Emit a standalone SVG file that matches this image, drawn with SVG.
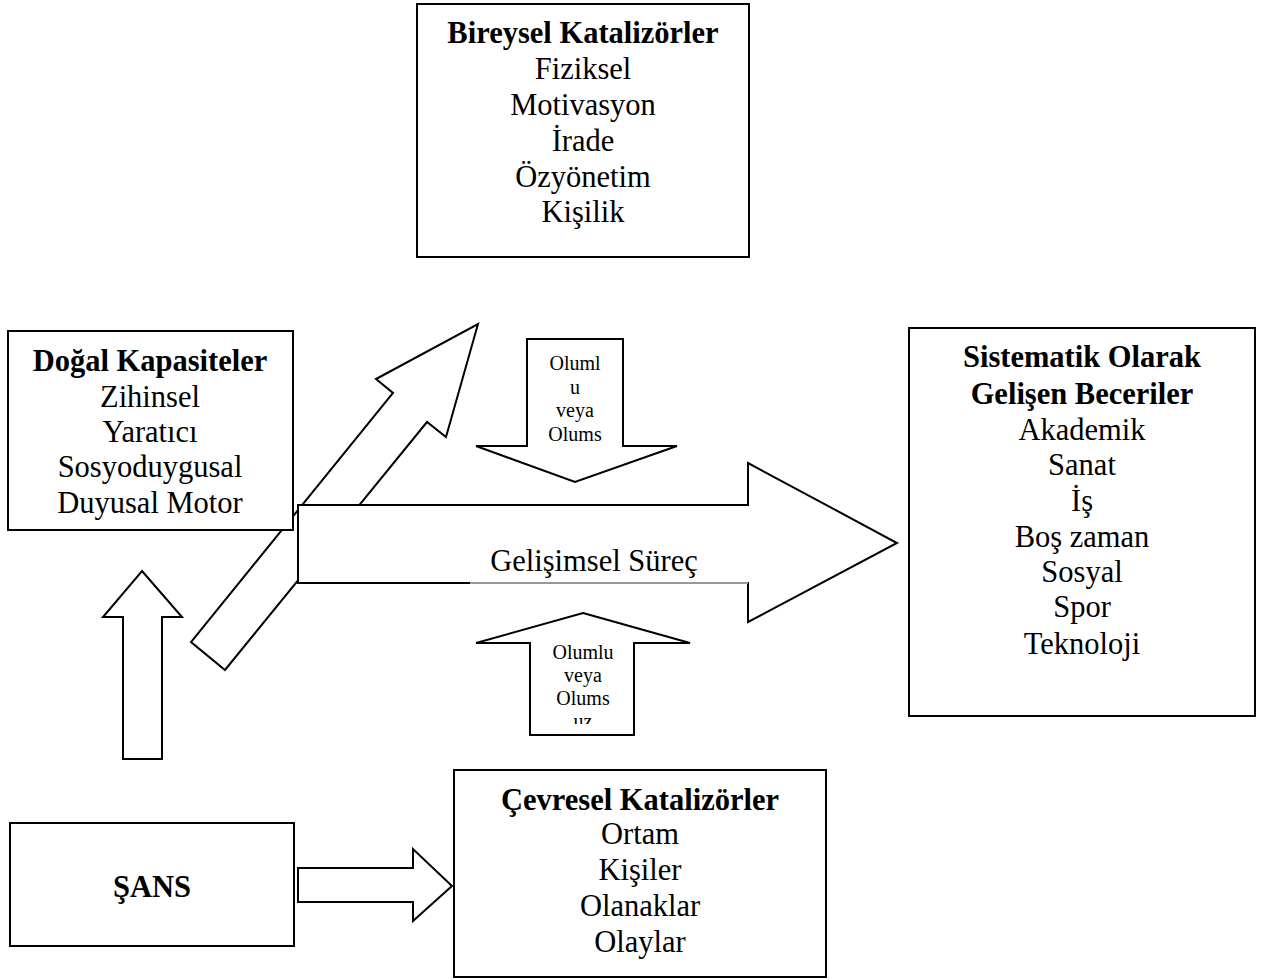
<svg xmlns="http://www.w3.org/2000/svg" width="1266" height="980" viewBox="0 0 1266 980">
<style>
.box{fill:#fff;stroke:#000;stroke-width:2}
.arr{fill:#fff;stroke:#000;stroke-width:2;stroke-linejoin:miter}
text{font-family:"Liberation Serif","Times New Roman",serif;fill:#000;text-anchor:middle}
.t{font-size:30.5px}
.b{font-size:30.5px;font-weight:bold}
.s{font-size:20px}
</style>
<defs>
<clipPath id="clipUp"><rect x="530" y="640" width="104" height="84"/></clipPath>
</defs>
<rect width="1266" height="980" fill="#fff"/>
<g id="connectors">
<polygon id="diag-arrow" class="arr" points="478,324 446,437 427,422 225,670 191,642 393,393 376,379"/>
<polygon id="up-arrow" class="arr" points="142,571 182,617 162,617 162,759 123,759 123,617 103,617"/>
<polygon id="chance-arrow" class="arr" points="298,868 413,868 413,849 452,886 413,921 413,902 298,902"/>
</g>
<g id="dogal">
<rect class="box" x="8" y="331" width="285" height="199"/>
<text class="b" x="150" y="371">Doğal Kapasiteler</text>
<text class="t" x="150" y="407">Zihinsel</text>
<text class="t" x="150" y="442">Yaratıcı</text>
<text class="t" x="150" y="477">Sosyoduygusal</text>
<text class="t" x="150" y="513">Duyusal Motor</text>
</g>
<g id="main-arrow">
<polygon class="arr" points="298,505 748,505 748,463 897,543 748,622 748,583 298,583"/>
<line x1="470" y1="583" x2="748" y2="583" stroke="#999" stroke-width="2"/>
<text class="t" x="594" y="571">Gelişimsel Süreç</text>
</g>
<g id="olumlu-down">
<polygon class="arr" points="527,339 623,339 623,446 677,446 575,482 476,446 527,446"/>
<text class="s" x="575" y="370">Oluml</text>
<text class="s" x="575" y="394">u</text>
<text class="s" x="575" y="417">veya</text>
<text class="s" x="575" y="441">Olums</text>
</g>
<g id="olumlu-up">
<polygon class="arr" points="583,613 690,643 634,643 634,735 530,735 530,643 476,643"/>
<g clip-path="url(#clipUp)">
<text class="s" x="583" y="659">Olumlu</text>
<text class="s" x="583" y="682">veya</text>
<text class="s" x="583" y="705">Olums</text>
<text class="s" x="583" y="728">uz</text>
</g>
</g>
<g id="bireysel">
<rect class="box" x="417" y="4" width="332" height="253"/>
<text class="b" x="583" y="43">Bireysel Katalizörler</text>
<text class="t" x="583" y="79">Fiziksel</text>
<text class="t" x="583" y="115">Motivasyon</text>
<text class="t" x="583" y="151">İrade</text>
<text class="t" x="583" y="187">Özyönetim</text>
<text class="t" x="583" y="222">Kişilik</text>
</g>
<g id="sistematik">
<rect class="box" x="909" y="328" width="346" height="388"/>
<text class="b" x="1082" y="367">Sistematik Olarak</text>
<text class="b" x="1082" y="404">Gelişen Beceriler</text>
<text class="t" x="1082" y="440">Akademik</text>
<text class="t" x="1082" y="475">Sanat</text>
<text class="t" x="1082" y="511">İş</text>
<text class="t" x="1082" y="547">Boş zaman</text>
<text class="t" x="1082" y="582">Sosyal</text>
<text class="t" x="1082" y="617">Spor</text>
<text class="t" x="1082" y="654">Teknoloji</text>
</g>
<g id="sans">
<rect class="box" x="10" y="823" width="284" height="123"/>
<text class="b" x="152" y="897">ŞANS</text>
</g>
<g id="cevresel">
<rect class="box" x="454" y="770" width="372" height="207"/>
<text class="b" x="640" y="810">Çevresel Katalizörler</text>
<text class="t" x="640" y="844">Ortam</text>
<text class="t" x="640" y="880">Kişiler</text>
<text class="t" x="640" y="916">Olanaklar</text>
<text class="t" x="640" y="952">Olaylar</text>
</g>
</svg>
